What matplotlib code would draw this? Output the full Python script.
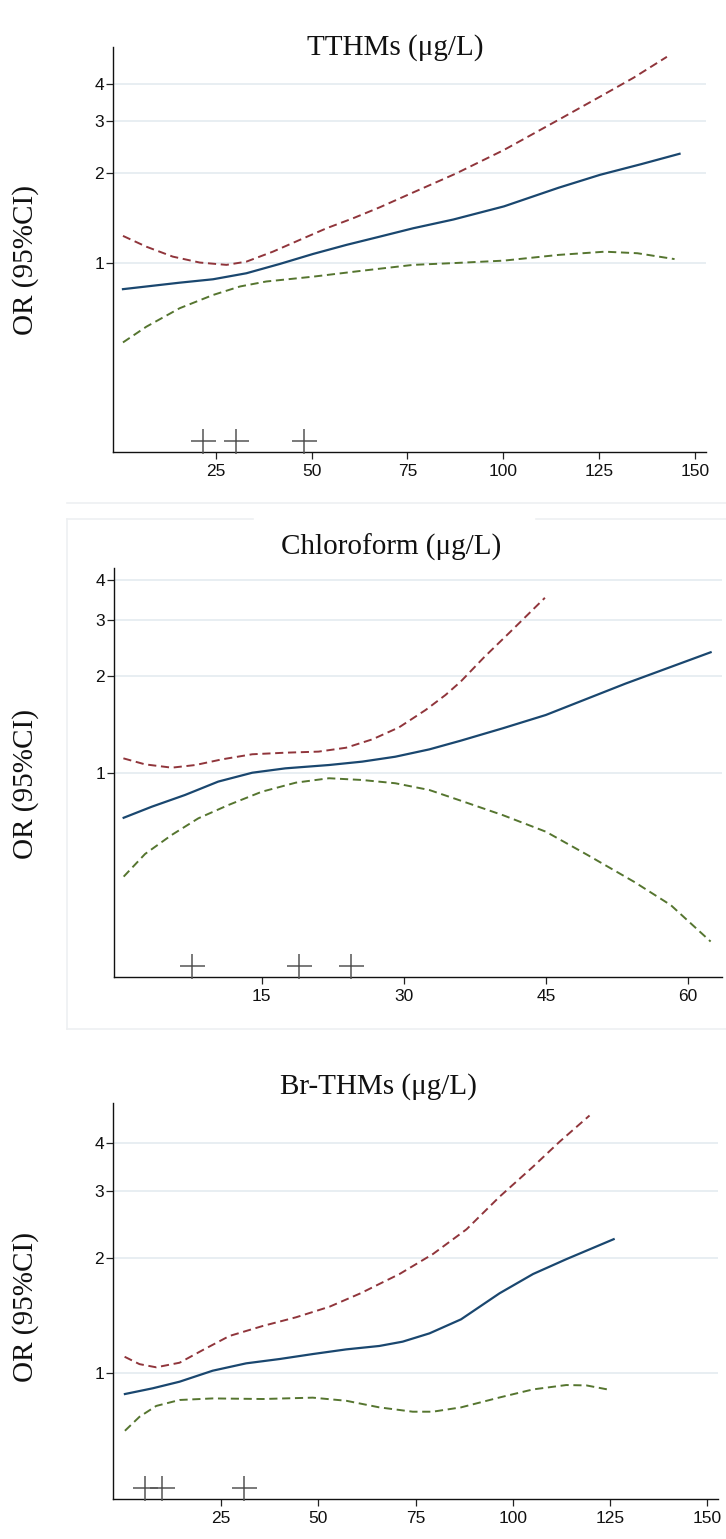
import matplotlib
matplotlib.use("Agg")
import matplotlib.pyplot as plt
from matplotlib.lines import Line2D

# ---------------- data ----------------
# Panel 1: TTHMs
tthm_x_or = [0.8, 15.6, 24.3, 33.0, 41.7, 50.4, 59.1, 67.8, 76.5, 87.0, 100.2, 114.4, 125.3, 136.0, 146.0]
tthm_or = [0.816, 0.858, 0.881, 0.923, 0.992, 1.072, 1.150, 1.226, 1.308, 1.400, 1.550, 1.790, 1.980, 2.150, 2.330]
tthm_x_hi = [0.8, 6.9, 13.8, 20.8, 27.8, 33.0, 39.9, 46.9, 53.9, 60.8, 67.8, 75.6, 87.7, 100.2, 114.4, 125.3, 134.0, 142.7]
tthm_hi = [1.233, 1.134, 1.050, 1.003, 0.985, 1.010, 1.091, 1.195, 1.308, 1.413, 1.539, 1.706, 2.000, 2.400, 3.030, 3.630, 4.200, 4.940]
tthm_x_lo = [0.8, 6.9, 15.6, 24.3, 31.3, 38.2, 50.4, 63.4, 76.5, 88.0, 100.2, 114.4, 126.5, 135.0, 144.7]
tthm_lo = [0.540, 0.610, 0.704, 0.780, 0.833, 0.866, 0.899, 0.942, 0.985, 1.000, 1.018, 1.064, 1.091, 1.078, 1.030]
tthm_marks = [21.6, 30.3, 48.0]
tthm_mark_y = [0.2525, 0.2525, 0.2525]

# Panel 2: Chloroform
chl_x_or = [0.42, 3.39, 6.9, 10.4, 14.0, 17.5, 22.1, 25.6, 29.1, 32.7, 36.0, 40.5, 45.0, 53.4, 62.4]
chl_or = [0.725, 0.785, 0.854, 0.940, 1.002, 1.034, 1.059, 1.085, 1.124, 1.185, 1.261, 1.380, 1.517, 1.900, 2.380]
chl_x_hi = [0.39, 2.68, 5.5, 8.0, 10.8, 14.0, 17.5, 21.0, 23.9, 26.7, 29.5, 32.3, 34.4, 36.0, 38.5, 41.1, 44.9]
chl_hi = [1.111, 1.064, 1.039, 1.059, 1.103, 1.144, 1.157, 1.166, 1.199, 1.274, 1.388, 1.572, 1.751, 1.927, 2.300, 2.730, 3.520]
chl_x_lo = [0.42, 2.68, 5.5, 8.3, 11.5, 15.0, 18.6, 22.1, 25.6, 29.1, 32.7, 36.0, 40.5, 45.0, 49.4, 54.3, 58.2, 62.4]
chl_lo = [0.475, 0.559, 0.641, 0.722, 0.795, 0.874, 0.933, 0.963, 0.951, 0.929, 0.885, 0.820, 0.738, 0.656, 0.555, 0.458, 0.387, 0.298]
chl_marks = [7.67, 18.9, 24.4]
chl_mark_y = [0.25, 0.25, 0.25]

# Panel 3: Br-THMs
br_x_or = [0.36, 7.5, 14.4, 22.9, 31.5, 40.1, 48.6, 57.2, 65.7, 71.7, 78.6, 86.7, 96.6, 105.2, 113.7, 125.9]
br_or = [0.881, 0.912, 0.949, 1.014, 1.060, 1.088, 1.121, 1.153, 1.177, 1.208, 1.270, 1.382, 1.617, 1.816, 1.985, 2.240]
br_x_hi = [0.28, 4.1, 8.4, 14.4, 20.4, 27.2, 35.8, 44.3, 52.9, 60.9, 66.9, 70.9, 79.5, 88.1, 96.6, 105.2, 112.0, 119.7]
br_hi = [1.103, 1.055, 1.035, 1.064, 1.149, 1.250, 1.328, 1.399, 1.491, 1.617, 1.734, 1.816, 2.049, 2.377, 2.894, 3.468, 4.030, 4.720]
br_x_lo = [0.36, 4.1, 8.4, 14.4, 22.9, 35.8, 48.6, 57.2, 65.7, 74.3, 79.4, 86.7, 96.6, 105.2, 113.7, 118.9, 125.0]
br_lo = [0.706, 0.768, 0.820, 0.850, 0.858, 0.855, 0.862, 0.846, 0.813, 0.792, 0.792, 0.813, 0.863, 0.906, 0.930, 0.928, 0.903]
br_marks = [5.5, 9.9, 30.9]
br_mark_y = [0.50, 0.50, 0.50]

titles = ["TTHMs (\u03bcg/L)", "Chloroform (\u03bcg/L)", "Br-THMs (\u03bcg/L)"]
ylabel = "OR (95%CI)"
yticks = [1, 2, 3, 4]
xticks_list = [[25, 50, 75, 100, 125, 150], [15, 30, 45, 60], [25, 50, 75, 100, 125, 150]]

# ---------------- style ----------------
BLUE = "#1a476f"
RED = "#90353b"
GREEN = "#55752f"
GRID = "#e6edf1"
FAINT = "#eef0f2"

W, H = 726, 1539
fig = plt.figure(figsize=(W / 100, H / 100), dpi=100)
fig.patch.set_facecolor("white")


def fx(px):
    return px / W


def fy(py):
    return 1 - py / H


# axes boxes in pixels: left, right, top, bottom
boxes = [(113, 706, 47, 452), (114, 722, 568, 977), (113, 718, 1103, 1499)]
xlims = [(-1.8, 152.9), (-0.6, 63.6), (-2.7, 152.7)]
ylims = [(0.231, 5.33), (0.231, 4.36), (0.468, 5.09)]
title_pos = [(395, 48), (391, 547), (378, 1087)]
ylabel_pos = [(26, 260), (26, 784), (26, 1307)]

panels = [
    (tthm_x_or, tthm_or, tthm_x_hi, tthm_hi, tthm_x_lo, tthm_lo, tthm_marks, tthm_mark_y),
    (chl_x_or, chl_or, chl_x_hi, chl_hi, chl_x_lo, chl_lo, chl_marks, chl_mark_y),
    (br_x_or, br_or, br_x_hi, br_hi, br_x_lo, br_lo, br_marks, br_mark_y),
]

tick_font = ["Liberation Sans", "DejaVu Sans"]
serif = ["Liberation Serif", "DejaVu Serif"]

for i, (xo, yo, xh, yh, xl, yl, mx, my) in enumerate(panels):
    l, r, t, b = boxes[i]
    ax = fig.add_axes([fx(l), fy(b), fx(r) - fx(l), fy(t) - fy(b)])
    ax.set_facecolor("white")
    ax.set_yscale("log")
    ax.set_xlim(*xlims[i])
    ax.set_ylim(*ylims[i])

    for yv in yticks:
        ax.axhline(yv, color=GRID, lw=1.3, zorder=0)

    ax.plot(xh, yh, color=RED, lw=1.4, dashes=(4.2, 2.4), zorder=3,
            solid_joinstyle="round", dash_capstyle="butt")
    ax.plot(xl, yl, color=GREEN, lw=1.4, dashes=(4.2, 2.4), zorder=3,
            solid_joinstyle="round", dash_capstyle="butt")
    ax.plot(xo, yo, color=BLUE, lw=1.6, zorder=4, solid_joinstyle="round")
    ax.plot(mx, my, linestyle="none", marker="+", markersize=18,
            markeredgewidth=1.1, color="#555555", zorder=5, clip_on=False)

    ax.set_yticks(yticks)
    ax.set_yticklabels([str(v) for v in yticks])
    ax.yaxis.set_minor_locator(matplotlib.ticker.NullLocator())
    ax.set_xticks(xticks_list[i])
    ax.set_xticklabels([str(v) for v in xticks_list[i]])
    for lab in ax.get_xticklabels() + ax.get_yticklabels():
        lab.set_family(tick_font)
        lab.set_fontsize(12.5)
        lab.set_color("#111111")
    ax.tick_params(axis="both", direction="out", length=5, width=0.9, color="#222222")
    ax.tick_params(axis="x", pad=3.5)
    ax.tick_params(axis="y", pad=1.5)

    for s in ["top", "right"]:
        ax.spines[s].set_visible(False)
    for s in ["left", "bottom"]:
        ax.spines[s].set_color("#111111")
        ax.spines[s].set_linewidth(1.0)

    tx, ty = title_pos[i]
    fig.text(fx(tx), fy(ty), titles[i], ha="center", va="center",
             family=serif, fontsize=21, color="#111111")
    lx, ly = ylabel_pos[i]
    fig.text(fx(lx), fy(ly), ylabel, ha="center", va="center", rotation=90,
             family=serif, fontsize=21, color="#111111")


# faint panel borders
def fline(x0, y0, x1, y1):
    fig.add_artist(Line2D([fx(x0), fx(x1)], [fy(y0), fy(y1)], color=FAINT, lw=1.2,
                          transform=fig.transFigure))


fline(67, 503, 726, 503)
fline(67, 519, 253, 519)
fline(536, 519, 726, 519)
fline(67, 519, 67, 1029)
fline(67, 1029, 726, 1029)

fig.savefig("out.png", dpi=100, facecolor="white")
